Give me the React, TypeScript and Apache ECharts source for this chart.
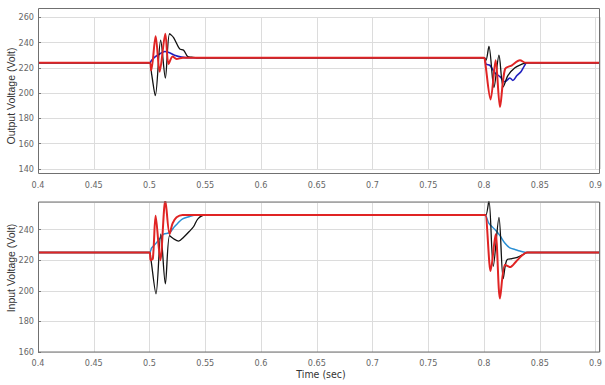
import React, { useEffect, useRef } from "react";
import * as echarts from "echarts";

// ---- Output voltage (top panel) ----
const outRedT = [0.4, 0.5, 0.5015, 0.5055, 0.5091, 0.5142, 0.5171, 0.5207, 0.5243, 0.53, 0.8, 0.8008, 0.8059, 0.8104, 0.8143, 0.8188, 0.825, 0.8322, 0.8376, 0.904];
const outRedV = [224, 224, 218, 245, 217, 247, 223, 229, 227, 228, 228, 226, 195, 226, 189, 219, 222, 226, 224, 224];

const outBlackT = [0.4, 0.5, 0.5019, 0.5052, 0.51, 0.5142, 0.518, 0.5216, 0.527, 0.5306, 0.5342, 0.5378, 0.5423, 0.8, 0.8017, 0.8044, 0.8089, 0.8134, 0.8172, 0.8215, 0.8277, 0.834, 0.8385, 0.904];
const outBlackV = [224, 224, 215, 198, 242, 212, 247, 244, 235, 234, 229, 228.5, 228, 228, 226, 237, 204.5, 230, 205, 214, 220, 223, 224, 224];

const outBlueT = [0.4, 0.5, 0.5019, 0.5055, 0.5091, 0.5136, 0.518, 0.5225, 0.5288, 0.536, 0.8, 0.8017, 0.8053, 0.8098, 0.8143, 0.8188, 0.8232, 0.8259, 0.8295, 0.8331, 0.8358, 0.8385, 0.904];
const outBlueV = [224, 224, 226, 229, 231, 233, 232, 230, 228.5, 228, 228, 223, 222, 216, 213, 209, 212, 210, 214, 217, 221, 224, 224];

// ---- Input voltage (bottom panel) ----
const inRedT = [0.4, 0.5, 0.501, 0.503, 0.5055, 0.5097, 0.5142, 0.518, 0.5207, 0.5243, 0.5297, 0.8, 0.8012, 0.8059, 0.8104, 0.8143, 0.8188, 0.8232, 0.8286, 0.834, 0.8385, 0.904];
const inRedV = [225, 225, 220, 221, 249, 220, 259, 237, 244, 248, 249.5, 249.5, 249.5, 213, 237, 195, 217, 215.5, 219, 223, 225, 225];

const inBlackT = [0.4, 0.5, 0.501, 0.5058, 0.5101, 0.5142, 0.518, 0.5216, 0.5261, 0.5306, 0.536, 0.5396, 0.5434, 0.5495, 0.8, 0.8017, 0.8044, 0.8083, 0.8134, 0.8172, 0.8203, 0.825, 0.8304, 0.8358, 0.8385, 0.904];
const inBlackV = [225, 225, 222, 198, 237, 204.5, 236, 234, 232.5, 235, 239, 242, 247, 249.5, 249.5, 249.5, 259, 216, 248, 208, 220, 221, 222, 224, 225, 225];

const inBlueT = [0.4, 0.5, 0.5019, 0.5046, 0.5091, 0.5127, 0.518, 0.5225, 0.5252, 0.5297, 0.536, 0.5414, 0.8, 0.8017, 0.8044, 0.8098, 0.8143, 0.8188, 0.8232, 0.8277, 0.8322, 0.8385, 0.904];
const inBlueV = [225, 225, 228, 230, 234, 237, 238, 242, 244, 247, 248.5, 249.5, 249.5, 249, 244, 240, 236, 231, 228, 227, 226, 225, 225];

// ---- axis ranges / labels ----
const xMin = 0.4;
const xMax = 0.904;
const xStep = 0.05;
const outYMin = 140;
const outYMax = 260;
const inYMin = 160;
const inYMax = 258;
const yStep = 20;
const outTitle = "Output Voltage (Volt)";
const inTitle = "Input Voltage (Volt)";
const xTitle = "Time (sec)";

const zip = (t: number[], v: number[]) => t.map((x, i) => [x, v[i]]);

const tickFont = '"Liberation Sans Narrow", "DejaVu Sans Condensed", "Liberation Sans", sans-serif';
const titleFont = '"Liberation Sans", Arial, sans-serif';

export default function App() {
  const ref = useRef<HTMLDivElement>(null);
  useEffect(() => {
    if (!ref.current) return;
    const chart = echarts.init(ref.current, null, { renderer: "svg" });
    const L = 38;
    const R = 600;
    const xAxisCommon = (gridIndex: number, margin: number) => ({
      type: "value" as const,
      gridIndex,
      min: xMin,
      max: xMax,
      interval: xStep,
      axisLine: { show: false },
      axisTick: { show: false },
      splitLine: { show: true, lineStyle: { color: "#dcdcdc", width: 1 } },
      axisLabel: {
        showMaxLabel: false,
        margin,
        color: "#666",
        fontSize: 9,
        fontFamily: tickFont,
      },
    });
    const yAxisCommon = (gridIndex: number, min: number, max: number) => ({
      type: "value" as const,
      gridIndex,
      min,
      max,
      interval: yStep,
      axisLine: { show: false },
      axisTick: { show: true, inside: true, length: 3, lineStyle: { color: "#777" } },
      splitLine: { show: true, lineStyle: { color: "#dcdcdc", width: 1 } },
      axisLabel: {
        showMaxLabel: max % yStep === 0,
        margin: 4,
        color: "#666",
        fontSize: 9,
        fontFamily: tickFont,
      },
    });
    const line = (xi: number, data: number[][], color: string, width: number) => ({
      type: "line" as const,
      xAxisIndex: xi,
      yAxisIndex: xi,
      data,
      showSymbol: false,
      symbol: "none",
      smooth: 0.3,
      lineStyle: { color, width },
      clip: true,
    });
    chart.setOption({
      animation: false,
      backgroundColor: "#fff",
      grid: [
        { left: L, width: R - L, top: 17.3, height: 151.7 },
        { left: L, width: R - L, top: 202, height: 150 },
      ],
      xAxis: [xAxisCommon(0, 11), xAxisCommon(1, 6)],
      yAxis: [yAxisCommon(0, outYMin, outYMax), yAxisCommon(1, inYMin, inYMax)],
      series: [
        line(0, zip(outBlueT, outBlueV), "#1f1fbf", 1.6),
        line(0, zip(outBlackT, outBlackV), "#111111", 1.3),
        line(0, zip(outRedT, outRedV), "#e02424", 2),
        line(1, zip(inBlueT, inBlueV), "#2a8fd4", 1.5),
        line(1, zip(inBlackT, inBlackV), "#111111", 1.3),
        line(1, zip(inRedT, inRedV), "#e02424", 2),
      ],
      graphic: [
        {
          type: "rect",
          shape: { x: L + 0.5, y: 8.5, width: R - L - 1, height: 165 },
          style: { fill: "none", stroke: "#707070", lineWidth: 1 },
          silent: true,
          z: 100,
        },
        {
          type: "rect",
          shape: { x: L + 0.5, y: 202, width: R - L - 1, height: 150 },
          style: { fill: "none", stroke: "#707070", lineWidth: 1 },
          silent: true,
          z: 100,
        },
        {
          type: "text",
          x: 11,
          y: 96,
          rotation: Math.PI / 2,
          style: {
            text: outTitle,
            fill: "#333",
            fontSize: 10.5,
            fontFamily: titleFont,
            align: "center",
            verticalAlign: "middle",
          },
        },
        {
          type: "text",
          x: 11,
          y: 268,
          rotation: Math.PI / 2,
          style: {
            text: inTitle,
            fill: "#333",
            fontSize: 10.5,
            fontFamily: titleFont,
            align: "center",
            verticalAlign: "middle",
          },
        },
        {
          type: "text",
          x: 321,
          y: 374,
          style: {
            text: xTitle,
            fill: "#333",
            fontSize: 10.5,
            fontFamily: tickFont,
            align: "center",
            verticalAlign: "middle",
          },
        },
      ],
    });
    return () => chart.dispose();
  }, []);
  return (
    <div
      ref={ref}
      style={{ position: "fixed", left: 0, top: 0, width: 605, height: 385 }}
    />
  );
}
